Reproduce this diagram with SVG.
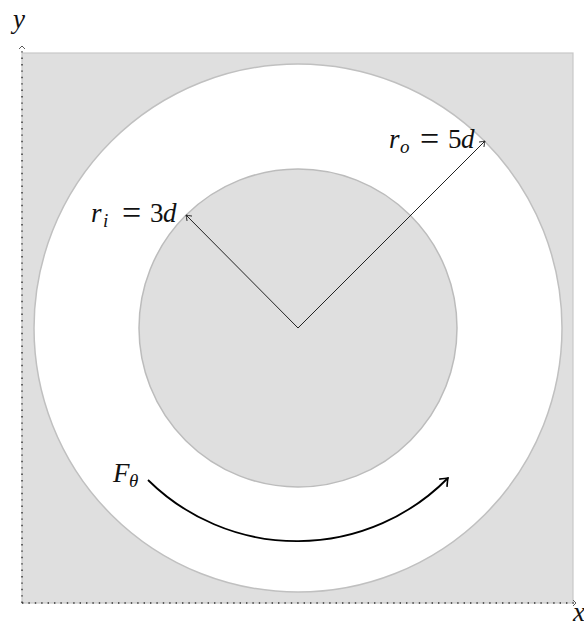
<svg xmlns="http://www.w3.org/2000/svg" width="584" height="626" viewBox="0 0 584 626">
<style>
.lbl{font-family:"Liberation Serif","DejaVu Serif",serif;font-size:27px;fill:#111}
.it{font-style:italic}
.sub{font-size:19px}
.eq{font-size:34px}
</style>
<defs>
<marker id="thin" markerUnits="userSpaceOnUse" markerWidth="12" markerHeight="12" refX="0" refY="0" viewBox="-7 -6 8 12" orient="auto" overflow="visible">
<path d="M-5,-3.5 Q-1.5,-0.8 0,0 Q-1.5,0.8 -5,3.5" fill="none" stroke="#222" stroke-width="0.9"/>
</marker>
<marker id="thick" markerUnits="userSpaceOnUse" markerWidth="16" markerHeight="16" refX="0" refY="0" viewBox="-9 -8 10 16" orient="auto" overflow="visible">
<path d="M-7,-5.5 Q-2,-1.2 0,0 Q-2,1.2 -7,5.5" fill="none" stroke="#000" stroke-width="1.6"/>
</marker>
<marker id="caret" markerUnits="userSpaceOnUse" markerWidth="10" markerHeight="10" refX="0" refY="0" viewBox="-5 -5 6 10" orient="auto" overflow="visible">
<path d="M-3,-3 L0,0 L-3,3" fill="none" stroke="#333" stroke-width="0.8"/>
</marker>
</defs>
<g id="domain">
<rect x="22" y="53" width="551" height="550" fill="#dfdfdf" stroke="#c8c8c8" stroke-width="1.2"/>
</g>
<g id="outer-circle">
<circle cx="298" cy="328" r="264" fill="#ffffff" stroke="#c0c0c0" stroke-width="1.5"/>
</g>
<g id="inner-circle">
<circle cx="298" cy="328" r="159" fill="#dfdfdf" stroke="#bcbcbc" stroke-width="1.5"/>
</g>
<g id="connectors">
<line x1="22" y1="603" x2="22" y2="46" stroke="#333" stroke-width="1.4" stroke-dasharray="1.4 5" marker-end="url(#caret)"/>
<line x1="22" y1="603" x2="576" y2="603" stroke="#333" stroke-width="1.4" stroke-dasharray="1.4 5" marker-end="url(#caret)"/>
<line x1="298" y1="328" x2="186" y2="215" stroke="#222" stroke-width="1" marker-end="url(#thin)"/>
<line x1="298" y1="328" x2="485" y2="141" stroke="#222" stroke-width="1" marker-end="url(#thin)"/>
<path d="M148,480 A212,212 0 0 0 448,478" fill="none" stroke="#000" stroke-width="1.8" marker-end="url(#thick)"/>
</g>
<g id="label-y"><text class="lbl it" x="13" y="28">y</text></g>
<g id="label-x"><text class="lbl it" x="573" y="621">x</text></g>
<g id="label-ri">
<text class="lbl" y="222"><tspan class="it" x="91">r</tspan><tspan class="it sub" x="103" dy="5">i</tspan><tspan class="eq" dy="-3" x="122">=</tspan><tspan x="150" dy="-2">3</tspan><tspan class="it" x="163">d</tspan></text>
</g>
<g id="label-ro">
<text class="lbl" y="148"><tspan class="it" x="389">r</tspan><tspan class="it sub" x="400" dy="5">o</tspan><tspan class="eq" dy="-3" x="420">=</tspan><tspan x="448" dy="-2">5</tspan><tspan class="it" x="461">d</tspan></text>
</g>
<g id="label-F">
<text class="lbl" y="482"><tspan class="it" x="113">F</tspan><tspan class="it sub" x="129" dy="5">θ</tspan></text>
</g>
</svg>
